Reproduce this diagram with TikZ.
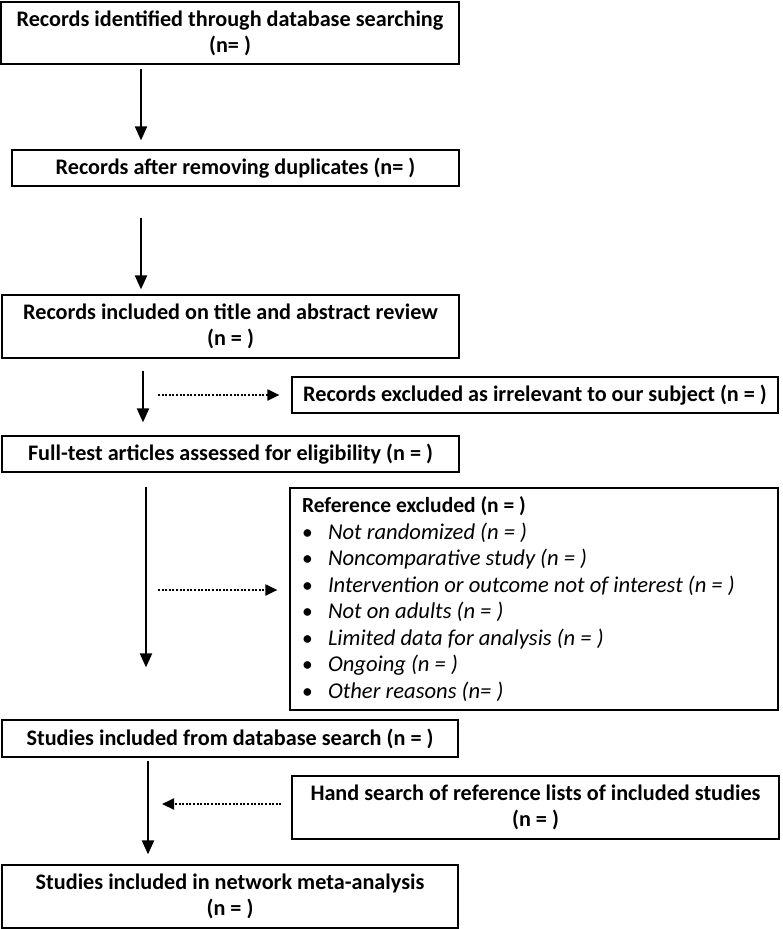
\documentclass[tikz,border=0pt]{standalone}
\usepackage{fontspec}
\setmainfont{Carlito}
\usetikzlibrary{arrows.meta}

\tikzset{
  box/.style={draw, line width=1.2pt, align=center, inner sep=0pt,
    font=\fontsize{22.2}{26}\selectfont\bfseries},
  flow/.style={line width=2pt, -{Triangle[length=14pt,width=12pt]}},
  side/.style={line width=2pt, dash pattern=on 2pt off 1.6pt,
    -{Triangle[length=12pt,width=11pt]}},
}
\newcommand{\itm}[1]{\makebox[26pt][l]{\textbullet}\textit{\fontsize{22.6}{26.5}\selectfont #1}}

\begin{document}
\begin{tikzpicture}[x=1pt,y=-1pt]
\useasboundingbox (0,0) rectangle (782,929);
% main column
\node[box,minimum width=458pt,minimum height=62pt] (ident) at (230,33) {Records identified through database searching\\(n= )};
\node[box,minimum width=447pt,minimum height=36pt] (dedup) at (235.5,168) {Records after removing duplicates (n= )};
\node[box,minimum width=457pt,minimum height=63pt] (screen) at (230.5,326.5) {Records included on title and abstract review\\(n = )};
\node[box,minimum width=457pt,minimum height=36pt] (full) at (230.5,454) {Full-test articles assessed for eligibility (n = )};
\node[box,minimum width=456pt,minimum height=37pt] (incl) at (230,738.5) {Studies included from database search (n = )};
\node[box,minimum width=456pt,minimum height=63pt] (nma) at (230,896.5) {Studies included in network meta-analysis\\(n = )};
% side boxes
\node[box,minimum width=486pt,minimum height=36pt] (irrel) at (535,395) {Records excluded as irrelevant to our subject (n = )};
\node[box,minimum width=488pt,minimum height=222pt,text width=464pt,align=flush left,inner xsep=12pt,
  font=\fontsize{21.5}{26.5}\selectfont\bfseries] (refex) at (534,599) {Reference excluded (n = )\\
\mdseries\itm{Not randomized (n = )}\\
\itm{Noncomparative study (n = )}\\
\itm{Intervention or outcome not of interest (n = )}\\
\itm{Not on adults (n = )}\\
\itm{Limited data for analysis (n = )}\\
\itm{Ongoing (n = )}\\
\itm{Other reasons (n= )}};
\node[box,minimum width=487pt,minimum height=63pt] (hand) at (535.5,807.5) {Hand search of reference lists of included studies\\(n = )};

% arrows down
\draw[flow,shorten <=4pt,shorten >=9pt] (141,0 |- ident.south) -- (141,0 |- dedup.north);
\draw[flow,shorten <=31pt,shorten >=5pt] (141,0 |- dedup.south) -- (141,0 |- screen.north);
\draw[flow,shorten <=12pt,shorten >=13pt] (143,0 |- screen.south) -- (143,0 |- full.north);
\draw[flow,shorten <=14pt,shorten >=52pt] (146,0 |- full.south) -- (146,0 |- incl.north);
\draw[flow,shorten <=3pt,shorten >=10pt] (148,0 |- incl.south) -- (148,0 |- nma.north);
% dotted side arrows
\draw[side,shorten >=12pt] (158,0 |- irrel.west) -- (irrel.west);
\draw[side,shorten >=12pt] (158,590) -- (refex.west |- 0,590);
\draw[side,shorten <=10pt] (hand.west |- 0,804) -- (162,804);
\end{tikzpicture}
\end{document}
